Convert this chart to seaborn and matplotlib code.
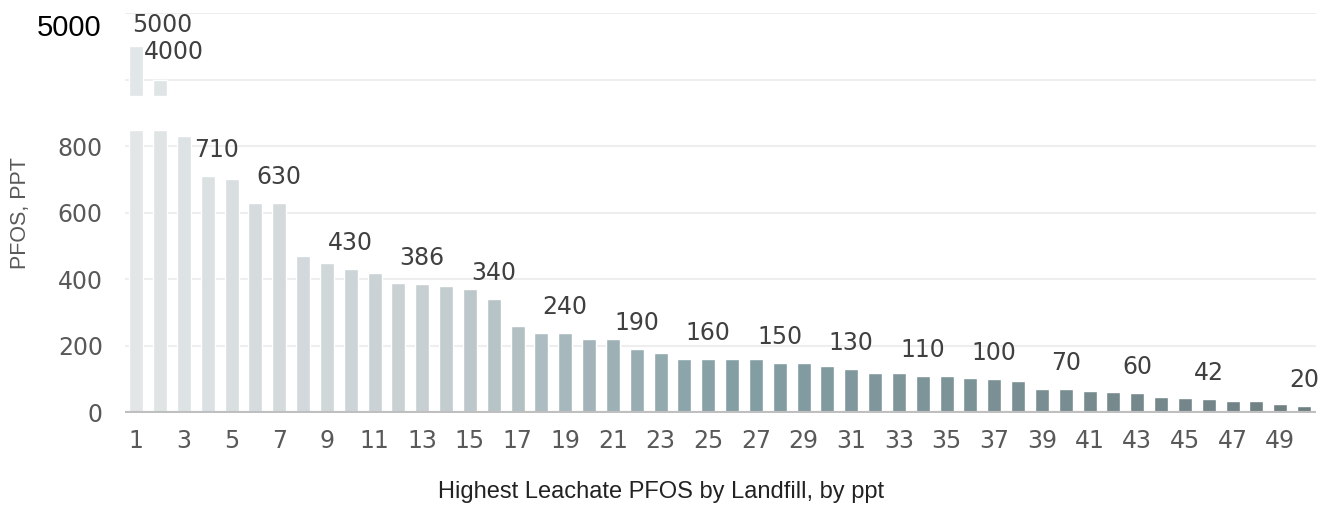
import matplotlib
matplotlib.use("Agg")
import matplotlib.pyplot as plt
import seaborn as sns
import pandas as pd
from matplotlib.colors import LinearSegmentedColormap

# highest leachate PFOS (ppt) per landfill, ranked
ranks = [str(i) for i in range(1, 51)]
pfos = [5000, 4000, 830, 710, 700, 630, 630, 470, 450, 430,
        420, 390, 386, 380, 370, 340, 260, 240, 240, 220,
        220, 190, 180, 160, 160, 160, 160, 150, 150, 140,
        130, 120, 120, 110, 110, 105, 100, 95, 72, 70,
        65, 62, 60, 48, 45, 42, 36, 35, 27, 20]
labelled = [1, 2, 4, 7, 10, 13, 16, 19, 22, 25, 28, 31, 34, 37, 40, 43, 46, 50]
y_ticks = [0, 200, 400, 600, 800]

# broken axis: values above the cut are squeezed (1:10) into the band above the gap
CUT_LOW, CUT_HIGH = 850, 950


def squeeze(v):
    return v if v <= CUT_LOW else CUT_HIGH + (v - 3500) / 10


df = pd.DataFrame({"rank": ranks, "pfos": pfos})
df["lower"] = df["pfos"].clip(upper=CUT_LOW)

cmap = LinearSegmentedColormap.from_list(
    "pfos", [(0, "#e1e6e8"), (0.25, "#c4cfd3"), (0.5, "#7fa3aa"), (1, "#6c8286")])
colors = [cmap(i / (len(df) - 1)) for i in range(len(df))]

sns.set_theme(style="white")
plt.rcParams["font.family"] = ["DejaVu Sans"]

fig = plt.figure(figsize=(13.2, 5.08), dpi=100)
ax = fig.add_axes([125 / 1320, 1 - 412.5 / 508, 1191 / 1320, 399.5 / 508])

for y in range(200, 1201, 200):
    ax.axhline(y, color="#eeeeee", lw=1.5, zorder=0)

sns.barplot(data=df, x="rank", y="lower", hue="rank", palette=colors,
            legend=False, width=0.59, ax=ax, zorder=2)

# upper pieces of the broken bars
big = df[df["pfos"] > CUT_LOW]
for i, row in big.iterrows():
    ax.bar(i, squeeze(row["pfos"]) - CUT_HIGH, bottom=CUT_HIGH, width=0.59,
           color=colors[i], zorder=2)

ax.axhline(0, color="#bfbfbf", lw=3, zorder=3)

# value labels
nudge = {1: (26, 9), 2: (14, 16), 4: (9, 14)}
for r in labelled:
    v = pfos[r - 1]
    dx, dy = nudge.get(r, (0, 14))
    ax.annotate(str(v), (r - 1, squeeze(v)), xytext=(dx * 0.72, dy * 0.72),
                textcoords="offset points", ha="center", va="bottom",
                fontsize=17, color="#404040")

ax.set_ylim(0, 1200)
ax.set_xlim(-0.47, 49.5)
ax.set_yticks(y_ticks)
ax.set_yticklabels([str(t) for t in y_ticks])
ax.set_xticks(range(0, 50, 2))
ax.set_xticklabels(ranks[::2])
ax.tick_params(axis="y", length=0, pad=16, labelsize=17, labelcolor="#595959")
ax.tick_params(axis="x", length=0, pad=12, labelsize=17, labelcolor="#595959")
sns.despine(ax=ax, left=True, bottom=True)

ax.text(-0.02, 0.963, "5000", transform=ax.transAxes, ha="right", va="center",
        fontsize=21, color="black", family=["Liberation Sans", "DejaVu Sans"])

ax.set_ylabel("PFOS, PPT", fontsize=15.5, color="#595959",
              family=["Liberation Sans", "DejaVu Sans"])
ax.yaxis.set_label_coords(-0.088, 0.5)
ax.yaxis.label.set_va("center")
ax.set_xlabel("Highest Leachate PFOS by Landfill, by ppt", fontsize=17, color="#222222",
              family=["Liberation Sans Narrow", "Liberation Sans", "DejaVu Sans"])
ax.xaxis.set_label_coords(0.45, -0.2)
ax.xaxis.label.set_va("center")

fig.savefig("out.png", dpi=100)
